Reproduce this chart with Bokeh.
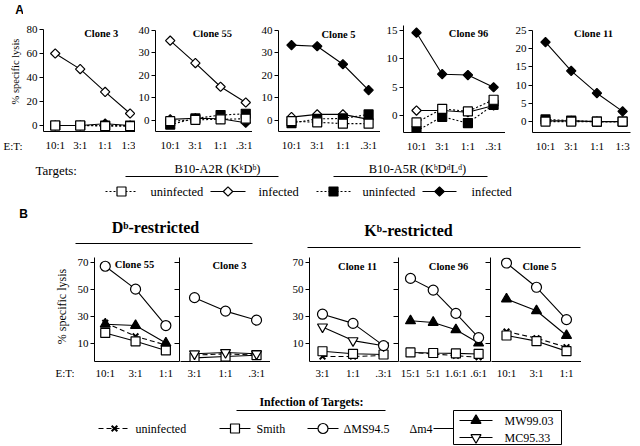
import math
from bokeh.plotting import figure
from bokeh.models import Range1d, FixedTicker, LinearAxis, Label
from bokeh.layouts import row, column
from bokeh.embed import file_html
from bokeh.resources import INLINE
from bokeh.core.properties import value

# ======================= DATA =======================
# Panel A: effector:target ratios
A_ET_CLONE3 = ["10:1", "3:1", "1:1", "1:3"]
A_ET_CLONE55 = ["10:1", "3:1", "1:1", ".3:1"]
A_ET_CLONE5 = ["10:1", "3:1", "1:1", ".3:1"]
A_ET_CLONE96 = ["10:1", "3:1", "1:1", ".3:1"]
A_ET_CLONE11 = ["10:1", "3:1", "1:1", "1:3"]

# % specific lysis (A2R = B10-A2R targets, A5R = B10-A5R targets)
A_CLONE3_A2R_UNINF = [0.0, 0.0, -0.5, -0.5]
A_CLONE3_A2R_INF = [60.0, 47.0, 28.0, 10.0]
A_CLONE3_A5R_UNINF = [0.0, 0.0, 0.0, 0.0]
A_CLONE3_A5R_INF = [0.0, 0.0, 1.5, 0.0]

A_CLONE55_A2R_UNINF = [-0.3, 0.3, 0.5, 0.8]
A_CLONE55_A2R_INF = [35.5, 25.5, 15.0, 8.0]
A_CLONE55_A5R_UNINF = [-1.8, 0.9, 2.4, 3.0]
A_CLONE55_A5R_INF = [0.5, 1.0, 0.8, -1.0]

A_CLONE5_A2R_UNINF = [-0.3, -0.8, -1.4, -1.4]
A_CLONE5_A2R_INF = [1.5, 2.7, 2.7, 0.5]
A_CLONE5_A5R_UNINF = [-1.2, 0.7, 0.9, 2.7]
A_CLONE5_A5R_INF = [33.5, 33.0, 25.0, 13.5]

A_CLONE96_A2R_UNINF = [-1.2, 1.2, 0.75, 2.8]
A_CLONE96_A2R_INF = [0.9, 0.9, 0.6, 1.8]
A_CLONE96_A5R_UNINF = [-2.7, -0.2, -1.3, 1.9]
A_CLONE96_A5R_INF = [14.6, 7.3, 7.15, 5.0]

A_CLONE11_A2R_UNINF = [0.0, 0.0, 0.0, 0.0]
A_CLONE11_A2R_INF = [0.2, 0.2, 0.0, 0.0]
A_CLONE11_A5R_UNINF = [0.6, 0.3, 0.0, 0.0]
A_CLONE11_A5R_INF = [21.8, 13.9, 7.8, 2.8]

A_YTICKS_CLONE3 = [0, 20, 40, 60, 80]
A_YTICKS_CLONE55 = [0, 10, 20, 30, 40]
A_YTICKS_CLONE5 = [0, 10, 20, 30, 40]
A_YTICKS_CLONE96 = [0, 5, 10, 15]
A_YTICKS_CLONE11 = [0, 5, 10, 15, 20, 25]

# Panel B
B_ET_CLONE55 = ["10:1", "3:1", "1:1"]
B_ET_CLONE3 = ["3:1", "1:1", ".3:1"]
B_ET_CLONE11 = ["3:1", "1:1", ".3:1"]
B_ET_CLONE96 = ["15:1", "5:1", "1.6:1", ".6:1"]
B_ET_CLONE5 = ["10:1", "3:1", "1:1"]

B_CLONE55_UNINF = [25.0, 15.0, 8.5]
B_CLONE55_SMITH = [17.5, 11.3, 4.5]
B_CLONE55_DMS945 = [67.0, 50.0, 23.0]
B_CLONE55_MW9903 = [24.0, 23.0, 10.0]
B_CLONE55_MC9533 = None

B_CLONE3_UNINF = [1.0, 2.0, 1.0]
B_CLONE3_SMITH = [-1.0, 0.0, 1.0]
B_CLONE3_DMS945 = [43.7, 33.7, 27.0]
B_CLONE3_MW9903 = None
B_CLONE3_MC9533 = [2.0, 3.0, 2.0]

B_CLONE11_UNINF = [0.0, 0.0, 0.7]
B_CLONE11_SMITH = [3.9, 2.0, 1.5]
B_CLONE11_DMS945 = [31.4, 24.6, 8.1]
B_CLONE11_MW9903 = None
B_CLONE11_MC9533 = [22.0, 11.8, 8.0]

B_CLONE96_UNINF = [3.0, 1.9, 0.6, -0.6]
B_CLONE96_SMITH = [3.0, 2.6, 2.3, 1.9]
B_CLONE96_DMS945 = [58.0, 49.3, 32.0, 14.0]
B_CLONE96_MW9903 = [26.5, 25.3, 19.9, 10.0]
B_CLONE96_MC9533 = None

B_CLONE5_UNINF = [18.5, 13.6, 6.9]
B_CLONE5_SMITH = [15.6, 11.4, 4.0]
B_CLONE5_DMS945 = [69.4, 51.4, 27.4]
B_CLONE5_MW9903 = [42.7, 34.0, 15.6]
B_CLONE5_MC9533 = None

B_YTICKS = [10, 30, 50, 70]

# ======================= STYLE / LAYOUT =======================
SERIF = "'Liberation Serif', 'Times New Roman', serif"
SANS = "'Liberation Sans', Arial, sans-serif"
DOT = "2 2"
DASH = "5 3"


def no_align(p):
    try:
        p.frame_align = False
    except Exception:
        pass
    return p


class Geo:
    def __init__(self, fig_left, fl, fw, ft, fh, x0, x1, y0, y1, width, height):
        self.fig_left = fig_left
        self.fl, self.fw, self.ft, self.fh = fl, fw, ft, fh
        self.x0, self.x1, self.y0, self.y1 = x0, x1, y0, y1
        self.width, self.height = width, height

    def to_data(self, ax, ly):
        fx = self.fig_left + self.fl
        x = self.x0 + (ax - fx) / self.fw * (self.x1 - self.x0)
        y = self.y1 - (ly - self.ft) / self.fh * (self.y1 - self.y0)
        return x, y


def style_axis(ax, size="11px"):
    ax.axis_line_color = "black"
    ax.axis_line_width = 1
    ax.major_tick_line_color = "black"
    ax.minor_tick_line_color = None
    ax.major_label_text_font = SERIF
    ax.major_label_text_font_size = size
    ax.major_label_text_color = "black"


def data_panel(g, labels, yticks, left_axis=True, right_axis=False, xstand=7):
    p = figure(width=g.width, height=g.height,
               x_range=Range1d(g.x0, g.x1), y_range=Range1d(g.y0, g.y1),
               x_axis_type=None, y_axis_type=None,
               toolbar_location=None, output_backend="svg")
    no_align(p)
    p.min_border_left = g.fl
    p.min_border_top = g.ft
    p.min_border_right = g.width - g.fl - g.fw
    p.min_border_bottom = g.height - g.ft - g.fh
    p.outline_line_color = None
    xa = LinearAxis(ticker=FixedTicker(ticks=list(range(len(labels))), minor_ticks=[]),
                    major_label_overrides={i: s for i, s in enumerate(labels)})
    style_axis(xa)
    xa.major_tick_out = 0
    xa.major_tick_in = 0
    xa.major_label_standoff = xstand
    p.add_layout(xa, "below")
    if left_axis:
        ya = LinearAxis(ticker=FixedTicker(ticks=yticks, minor_ticks=[]))
        style_axis(ya)
        ya.major_tick_out = 4
        ya.major_tick_in = 0
        ya.major_label_standoff = 2
        p.add_layout(ya, "left")
    if right_axis:
        yr = LinearAxis(ticker=FixedTicker(ticks=yticks, minor_ticks=[]),
                        major_label_overrides={t: "" for t in yticks})
        style_axis(yr, size="0px")
        yr.major_tick_out = 0
        yr.major_tick_in = 5
        yr.major_label_standoff = 0
        p.add_layout(yr, "right")
    return p


def series(p, ys, marker, fill, dash, size, angle=0.0, lw=1.1, mlw=1.2):
    if ys is None:
        return
    xs = list(range(len(ys)))
    p.line(xs, ys, line_color="black", line_width=lw, line_dash=dash)
    p.scatter(xs, ys, marker=marker, size=size, angle=angle, fill_color=fill,
              line_color="black", line_width=mlw)


def label(p, g, ax, ly, text, size="10.5px", bold=True, align="center", font=SERIF):
    x, y = g.to_data(ax, ly)
    p.add_layout(Label(x=x, y=y, text=text, text_font=font, text_font_size=size,
                       text_font_style="bold" if bold else "normal",
                       text_align=align, text_baseline="middle", text_color="black"))


def canvas(w, h):
    p = figure(width=w, height=h, x_range=Range1d(0, w), y_range=Range1d(h, 0),
               x_axis_type=None, y_axis_type=None, toolbar_location=None,
               output_backend="svg", min_border=0)
    no_align(p)
    p.min_border_left = 0
    p.min_border_right = 0
    p.min_border_top = 0
    p.min_border_bottom = 0
    p.outline_line_color = None
    return p


def ctext(p, x, y, s, size="12px", bold=False, align="left", font=SERIF, angle=0.0):
    p.text(x=[x], y=[y], text=[s], text_font=value(font), text_font_size=size,
           text_font_style="bold" if bold else "normal", text_align=align,
           text_baseline="middle", text_color="black", angle=angle)


def hline(p, x0, x1, y, dash="solid", lw=1.0):
    p.line([x0, x1], [y, y], line_color="black", line_width=lw, line_dash=dash)


def legend_item(p, x0, x1, y, marker, fill, dash, size, angle=0.0, mlw=1.2):
    hline(p, x0, x1, y, dash, 1.0)
    p.scatter([(x0 + x1) / 2], [y], marker=marker, size=size, angle=angle,
              fill_color=fill, line_color="black", line_width=mlw)


DIAM = dict(marker="square", angle=math.pi / 4, size=6.6)
SQ = dict(marker="square", size=9)

# ----------------------- Row A -----------------------
RA_H = 154
strip_a = canvas(23, RA_H)
ctext(strip_a, 19, 9, "A", size="12px", bold=True, align="center", font=SANS)
ctext(strip_a, 15, 71, "% specific lysis", size="10.5px", align="center", angle=math.pi / 2)
ctext(strip_a, 3, 145, "E:T:", size="11px")

ga = [
    Geo(23, 18, 94, 29, 102, -0.47, 3.216, -5.0, 80.0, 112, RA_H),
    Geo(135, 18, 99, 30, 101, -0.584, 3.268, -4.9, 40.0, 117, RA_H),
    Geo(252, 26, 102, 30, 101, -0.506, 3.463, -4.9, 40.0, 128, RA_H),
    Geo(380, 23, 102, 25, 108, -0.506, 3.463, -2.965, 15.87, 125, RA_H),
    Geo(505, 27, 98, 30, 103, -0.506, 3.307, -2.99, 25.0, 129, RA_H),
]
a_specs = [
    ("Clone 3", A_ET_CLONE3, A_YTICKS_CLONE3,
     A_CLONE3_A2R_UNINF, A_CLONE3_A2R_INF, A_CLONE3_A5R_UNINF, A_CLONE3_A5R_INF, 100, 33),
    ("Clone 55", A_ET_CLONE55, A_YTICKS_CLONE55,
     A_CLONE55_A2R_UNINF, A_CLONE55_A2R_INF, A_CLONE55_A5R_UNINF, A_CLONE55_A5R_INF, 211, 33),
    ("Clone 5", A_ET_CLONE5, A_YTICKS_CLONE5,
     A_CLONE5_A2R_UNINF, A_CLONE5_A2R_INF, A_CLONE5_A5R_UNINF, A_CLONE5_A5R_INF, 338, 34),
    ("Clone 96", A_ET_CLONE96, A_YTICKS_CLONE96,
     A_CLONE96_A2R_UNINF, A_CLONE96_A2R_INF, A_CLONE96_A5R_UNINF, A_CLONE96_A5R_INF, 468, 33),
    ("Clone 11", A_ET_CLONE11, A_YTICKS_CLONE11,
     A_CLONE11_A2R_UNINF, A_CLONE11_A2R_INF, A_CLONE11_A5R_UNINF, A_CLONE11_A5R_INF, 593, 33),
]
row_a = [strip_a]
for i, (g, spec) in enumerate(zip(ga, a_specs)):
    title, ets, yt, a2u, a2i, a5u, a5i, tx, ty = spec
    p = data_panel(g, ets, yt)
    series(p, a2i, fill="white", dash="solid", **DIAM)
    series(p, a5i, fill="black", dash="solid", **DIAM)
    series(p, a5u, fill="black", dash=DOT, **SQ)
    series(p, a2u, fill="white", dash=DOT, **SQ)
    label(p, g, tx, ty, title)
    row_a.append(p)

# ----------------------- Legend A -----------------------
la = canvas(636, 50)
ctext(la, 35, 16, "Targets:", size="13px")
ctext(la, 217, 14, "B10-A2R (K\u1d4fD\u1d47)", size="12.5px", align="center")
hline(la, 125, 278, 22)
ctext(la, 417, 14, "B10-A5R (K\u1d47D\u1d48L\u1d48)", size="12.5px", align="center")
hline(la, 333, 487, 22)
legend_item(la, 105, 137, 37, fill="white", dash=DOT, **SQ)
ctext(la, 150, 37, "uninfected", size="12.5px")
legend_item(la, 210, 245, 37, fill="white", dash="solid", **DIAM)
ctext(la, 258, 37, "infected", size="12.5px")
legend_item(la, 316, 350, 37, fill="black", dash=DOT, **SQ)
ctext(la, 362, 37, "uninfected", size="12.5px")
legend_item(la, 422, 456, 37, fill="black", dash="solid", **DIAM)
ctext(la, 471, 37, "infected", size="12.5px")

# ----------------------- Header B -----------------------
hb = canvas(636, 45)
ctext(hb, 23, 9, "B", size="12px", bold=True, align="center", font=SANS)
ctext(hb, 155, 23, "D\u1d47-restricted", size="16px", bold=True, align="center")
hline(hb, 75, 252, 39)
ctext(hb, 408, 26, "K\u1d47-restricted", size="16px", bold=True, align="center")
hline(hb, 307, 580, 43)

# ----------------------- Row B -----------------------
RB_H = 134
YB = (-3.7, 73.5)
strip_b = canvas(74, RB_H)
ctext(strip_b, 61, 57, "% specific lysis", size="12px", align="center", angle=math.pi / 2)
ctext(strip_b, 55, 123, "E:T:", size="11px")

gb = [
    Geo(74, 18, 87, 8, 104, -0.355, 2.45, YB[0], YB[1], 106, RB_H),
    Geo(180, 0, 90, 8, 104, -0.452, 2.45, YB[0], YB[1], 90, RB_H),
    Geo(270, 39, 89, 8, 104, -0.426, 2.49, YB[0], YB[1], 129, RB_H),
    Geo(399, 0, 91, 8, 104, -0.485, 3.524, YB[0], YB[1], 92, RB_H),
    Geo(491, 0, 90, 8, 104, -0.5, 2.5, YB[0], YB[1], 90, RB_H),
]
b_specs = [
    ("Clone 55", B_ET_CLONE55, B_CLONE55_UNINF, B_CLONE55_SMITH, B_CLONE55_DMS945,
     B_CLONE55_MW9903, B_CLONE55_MC9533, 133, 15, True, True),
    ("Clone 3", B_ET_CLONE3, B_CLONE3_UNINF, B_CLONE3_SMITH, B_CLONE3_DMS945,
     B_CLONE3_MW9903, B_CLONE3_MC9533, 229, 16, False, False),
    ("Clone 11", B_ET_CLONE11, B_CLONE11_UNINF, B_CLONE11_SMITH, B_CLONE11_DMS945,
     B_CLONE11_MW9903, B_CLONE11_MC9533, 357, 17, True, True),
    ("Clone 96", B_ET_CLONE96, B_CLONE96_UNINF, B_CLONE96_SMITH, B_CLONE96_DMS945,
     B_CLONE96_MW9903, B_CLONE96_MC9533, 448, 17, False, True),
    ("Clone 5", B_ET_CLONE5, B_CLONE5_UNINF, B_CLONE5_SMITH, B_CLONE5_DMS945,
     B_CLONE5_MW9903, B_CLONE5_MC9533, 539, 17, False, False),
]
row_b_figs = [strip_b]
for i, (g, spec) in enumerate(zip(gb, b_specs)):
    title, ets, un, sm, dm, mw, mc, tx, ty, lax, rax = spec
    p = data_panel(g, ets, B_YTICKS, left_axis=lax, right_axis=rax, xstand=5)
    series(p, un, marker="x", size=8, fill=None, dash=DASH, mlw=2.0)
    series(p, sm, fill="white", dash="solid", **SQ)
    series(p, mc, marker="inverted_triangle", size=10, fill="white", dash="solid")
    series(p, mw, marker="triangle", size=10, fill="black", dash="solid")
    series(p, dm, marker="circle", size=10, fill="white", dash="solid")
    label(p, g, tx, ty, title)
    row_b_figs.append(p)

# ----------------------- Legend B -----------------------
lb = canvas(636, 62)
ctext(lb, 311, 18, "Infection of Targets:", size="12px", bold=True, align="center")
hline(lb, 236, 385, 27)
legend_item(lb, 98, 130, 45, marker="x", size=8, fill=None, dash=DASH, mlw=2.0)
ctext(lb, 135, 45, "uninfected", size="12px")
legend_item(lb, 219, 250, 45, fill="white", dash="solid", **SQ)
ctext(lb, 256, 45, "Smith", size="12px")
legend_item(lb, 307, 338, 45, marker="circle", size=10, fill="white", dash="solid")
ctext(lb, 343, 45, "\u0394MS94.5", size="12px")
ctext(lb, 409, 45, "\u0394m4", size="12px")
hline(lb, 433, 453, 45)
lb.line([453, 561, 561, 453, 453], [27, 27, 61, 61, 27], line_color="black", line_width=1)
legend_item(lb, 459, 492, 37, marker="triangle", size=10, fill="black", dash="solid")
ctext(lb, 504, 37, "MW99.03", size="12px")
legend_item(lb, 459, 492, 54, marker="inverted_triangle", size=10, fill="white", dash="solid")
ctext(lb, 504, 54, "MC95.33", size="12px")

layout = column(row(*row_a), la, hb, row(*row_b_figs), lb)
open("out.html", "w").write(file_html(layout, INLINE))
